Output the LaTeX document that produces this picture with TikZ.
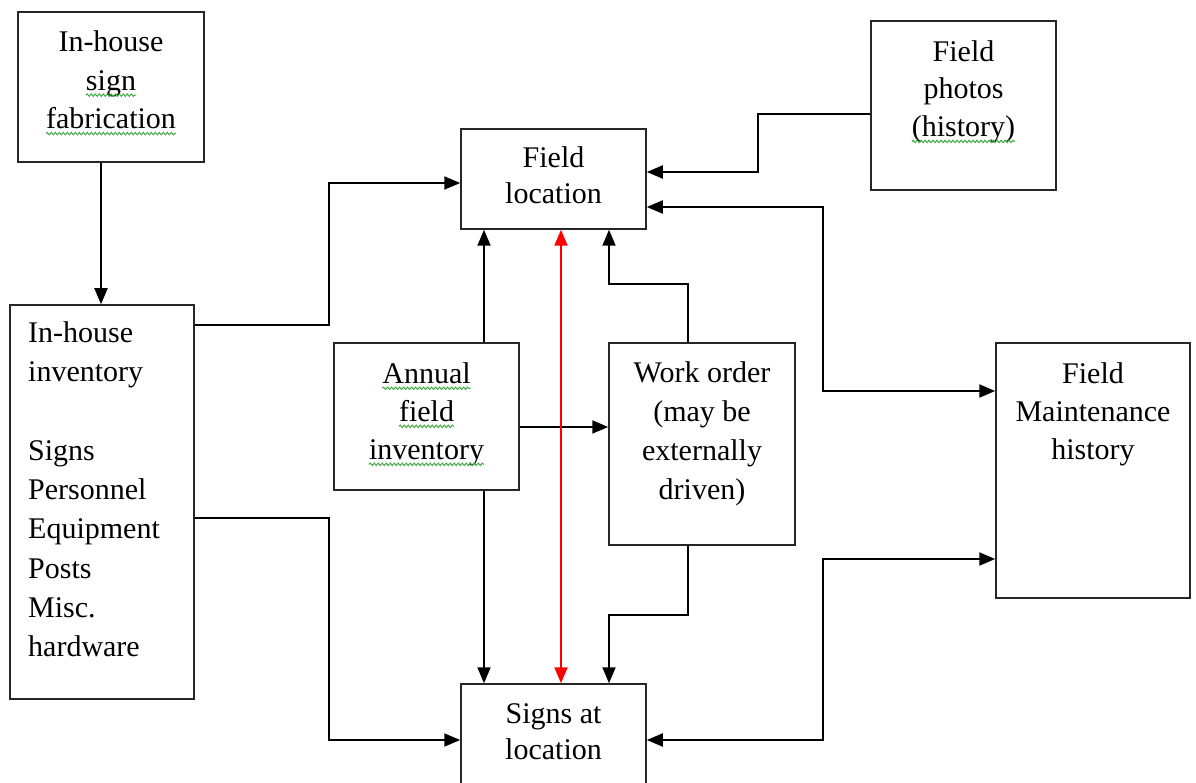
\documentclass[tikz,border=0pt]{standalone}
\usepackage{fontspec}
\setmainfont{Liberation Serif}
\usetikzlibrary{arrows.meta,decorations.pathmorphing}
\definecolor{sqgreen}{RGB}{70,170,70}
\newcommand\sq[1]{\tikz[baseline=(w.base)]{\node[inner sep=0pt,outer sep=0pt] (w) {#1};
  \draw[sqgreen,line width=1pt,decorate,decoration={snake,amplitude=1.2pt,segment length=4pt}] ([yshift=-5pt]w.base west) -- ([yshift=-5pt]w.base east);}}
\tikzset{
  box/.style={draw=black!85,line width=1.5pt,rectangle,inner sep=0pt,fill=white},
  txt/.style={inner sep=0pt,align=center,font=\fontsize{30}{#1}\selectfont,anchor=north},
  tip/.tip={Triangle[length=16pt,width=13pt]},
  arr/.style={line width=1.9pt,-tip},
  darr/.style={line width=1.9pt,tip-tip},
}
\begin{document}
\begin{tikzpicture}[x=1pt,y=-1pt]
\clip (0,0) rectangle (1196,783);
\fill[white] (0,0) rectangle (1196,783);
% boxes
\node[box,minimum width=186pt,minimum height=150pt] (fab) at (111,87) {};
\node[box,minimum width=184pt,minimum height=394pt] (inv) at (102,502) {};
\node[box,minimum width=185pt,minimum height=100pt] (loc) at (553.5,179) {};
\node[box,minimum width=185pt,minimum height=169pt] (photo) at (963.5,105.5) {};
\node[box,minimum width=185pt,minimum height=147pt] (ann) at (426.5,416.5) {};
\node[box,minimum width=186pt,minimum height=202pt] (wo) at (702,444) {};
\node[box,minimum width=194pt,minimum height=255pt] (maint) at (1093,470.5) {};
\node[box,minimum width=185pt,minimum height=120pt] (signs) at (553.5,744) {};
% texts
\node[txt=38.5] (fabt) at (111,24.5) {\strut In-house\\\sq{sign}\\\sq{fabrication}};
\node[txt=39.25,align=left,anchor=north west] (invt) at (28,315) {\strut In-house\\inventory\\\mbox{}\\Signs\\Personnel\\Equipment\\Posts\\Misc.\\hardware};
\node[txt=36.5] (loct) at (553.5,141.5) {\strut Field\\location};
\node[txt=37.5] (photot) at (963.5,35) {\strut Field\\photos\\\sq{(history)}};
\node[txt=38] (annt) at (426.5,356.5) {\strut \sq{Annual}\\\sq{field}\\\sq{inventory}};
\node[txt=39] (wot) at (702,355) {\strut Work order\\(may be\\externally\\driven)};
\node[txt=38] (maintt) at (1093,356.5) {\strut Field\\Maintenance\\history};
\node[txt=36] (signst) at (553.5,698) {\strut Signs at\\location};
% connectors
\coordinate (c1) at ([xshift=-10pt]fab.south);
\draw[arr] (c1) -- (c1 |- inv.north);
\draw[arr] ([yshift=-21pt]inv.north east) -- ++(134,0) |- ([yshift=-4pt]loc.west);
\draw[arr] ([yshift=-214pt]inv.north east) -- ++(134,0) |- ([yshift=4pt]signs.west);
\draw[arr] ([yshift=-8.5pt]photo.west) -- ++(-112,0) |- ([yshift=7pt]loc.east);
\draw[darr] ([yshift=-28pt]loc.east) -- ++(176,0) |- ([yshift=79.5pt]maint.west);
\draw[darr] ([yshift=4pt]signs.east) -- ++(176,0) |- ([yshift=-88.5pt]maint.west);
\coordinate (c7) at ([xshift=57.5pt]ann.north);
\draw[arr] (c7) -- (c7 |- loc.south);
\coordinate (c8) at ([xshift=57.5pt]ann.south);
\draw[arr] (c8) -- (c8 |- signs.north);
\coordinate (c9) at ([yshift=-10.5pt]ann.east);
\draw[arr] (c9) -- (c9 -| wo.west);
\coordinate (c10) at ([xshift=-14pt]wo.north);
\coordinate (c10b) at ([xshift=55.5pt]loc.south);
\draw[arr] (c10) -- ++(0,-58) -| (c10b);
\coordinate (c11) at ([xshift=-14pt]wo.south);
\coordinate (c11b) at ([xshift=55.5pt]signs.north);
\draw[arr] (c11) -- ++(0,69) -| (c11b);
\coordinate (c12) at ([xshift=7.5pt]loc.south);
\draw[red,line width=2.2pt,tip-tip] (c12) -- (c12 |- signs.north);
\end{tikzpicture}
\end{document}
